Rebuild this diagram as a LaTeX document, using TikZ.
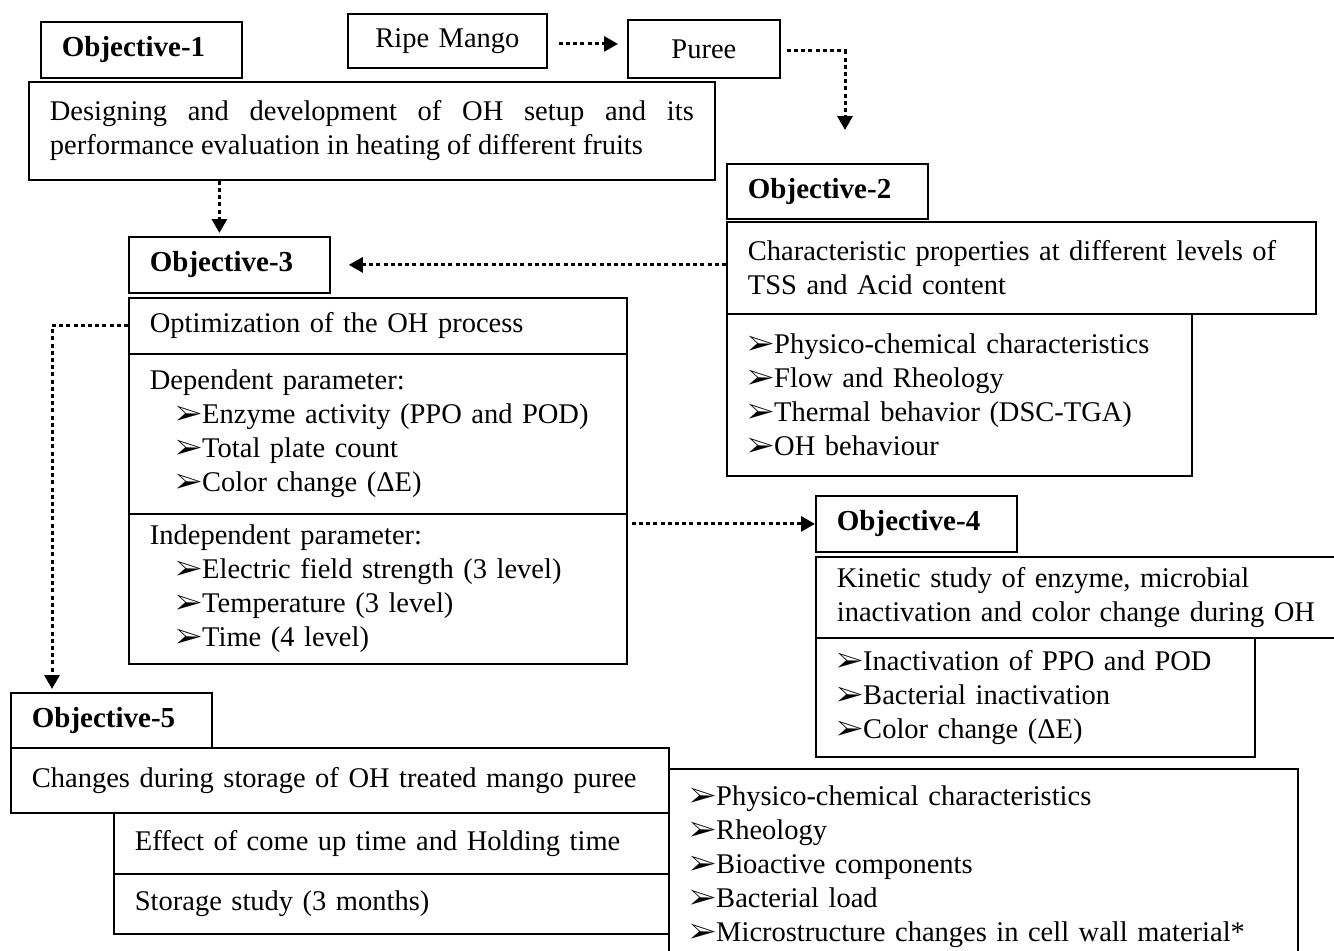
\documentclass[tikz,border=0pt]{standalone}
\usepackage{fontspec}
\setmainfont{Liberation Serif}
\usepackage{pifont}
\usetikzlibrary{arrows.meta}

\newcommand{\bul}{\ding{226}}

\begin{document}
\begin{tikzpicture}[x=0.5pt,y=-0.5pt,
  box/.style={draw,line width=0.9pt,fill=white,anchor=north west,inner xsep=10.5pt,inner ysep=0pt,align=left,font=\fontsize{14.25}{17}\selectfont},
  objbox/.style={box,font=\fontsize{14.5}{17}\selectfont\bfseries,text width=79.5pt,minimum height=28pt},
  arr/.style={line width=1.5pt,dash pattern=on 2pt off 1.6pt,-{Triangle[length=7pt,width=7.5pt]}}]
\useasboundingbox (0,0) rectangle (1334,950);
% objective 1 and the fruit
\node[objbox] (obj1) at (40,21) {Objective-1};
\node[box,align=center,text width=78.5pt,minimum height=27pt] (mango) at (347,13) {\raisebox{-1.5pt}{Ripe Mango}};
\node[box,align=center,text width=55pt,minimum height=29pt] (puree) at (627,19) {Puree};
\node[box,align=justify,text width=322pt,minimum height=49pt] (obj1desc) at (28,81) {Designing and development of OH setup and its\linebreak performance evaluation in heating of different fruits};
% objective 2
\node[objbox,minimum height=27.5pt] (obj2) at (726,163) {Objective-2};
\node[box,text width=273.5pt,minimum height=46pt] (obj2desc) at (726,221) {Characteristic properties at different levels of\\TSS and Acid content};
\node[box,text width=211.5pt,minimum height=81pt] (obj2list) at (726,313) {\bul Physico-chemical characteristics\\\bul Flow and Rheology\\\bul Thermal behavior (DSC-TGA)\\\bul OH behaviour};
% objective 3
\node[objbox] (obj3) at (128,236) {Objective-3};
\node[box,text width=228pt,minimum height=28pt] (obj3desc) at (128,297) {Optimization of the OH process};
\node[box,text width=228pt,minimum height=80pt] (dep) at (128,353) {Dependent parameter:\\\hspace*{13pt}\bul Enzyme activity (PPO and POD)\\\hspace*{13pt}\bul Total plate count\\\hspace*{13pt}\bul Color change (ΔE)};
\node[box,text width=228pt,minimum height=75pt] (indep) at (128,513) {Independent parameter:\\\hspace*{13pt}\bul Electric field strength (3 level)\\\hspace*{13pt}\bul Temperature (3 level)\\\hspace*{13pt}\bul Time (4 level)};
% objective 4
\node[objbox] (obj4) at (815,495) {Objective-4};
\node[box,text width=270pt,minimum height=40.5pt] (obj4desc) at (815,556) {Kinetic study of enzyme, microbial\\inactivation and color change during OH};
\node[box,text width=198.5pt,minimum height=59.5pt] (obj4list) at (815,637) {\bul Inactivation of PPO and POD\\\bul Bacterial inactivation\\\bul Color change (ΔE)};
% objective 5
\node[objbox,minimum height=27.5pt] (obj5) at (10,692) {Objective-5};
\node[box,text width=308pt,minimum height=32.5pt] (obj5desc) at (10,747) {Changes during storage of OH treated mango puree};
\node[box,text width=256.5pt,minimum height=30.5pt] (effect) at (113,812) {Effect of come up time and Holding time};
\node[box,text width=256.5pt,minimum height=30pt] (storage) at (113,873) {Storage study (3 months)};
\node[box,text width=293.5pt,minimum height=97.5pt] (obj5list) at (668,768) {\bul Physico-chemical characteristics\\\bul Rheology\\\bul Bioactive components\\\bul Bacterial load\\\bul Microstructure changes in cell wall material*};
% connectors
\coordinate (obj2in) at (845,130);
\draw[arr,shorten <=5.5pt,shorten >=4.5pt] ([yshift=-1.5pt]mango.east) -- ([yshift=-1.5pt]mango.east -| puree.west);
\draw[arr,shorten <=3pt] ([yshift=-1pt]puree.east) -| (obj2in);
\draw[arr,shorten >=1.5pt] ([xshift=-5pt]obj3.north |- obj1desc.south) -- ([xshift=-5pt]obj3.north);
\draw[arr,shorten >=9pt] (obj3.east -| obj2desc.west) -- (obj3.east);
\draw[arr,shorten >=1.5pt] (obj3desc.west) -| ([xshift=21pt]obj5.north west);
\draw[arr,shorten <=2pt] (obj4.west -| indep.east) -- (obj4.west);
\end{tikzpicture}
\end{document}
